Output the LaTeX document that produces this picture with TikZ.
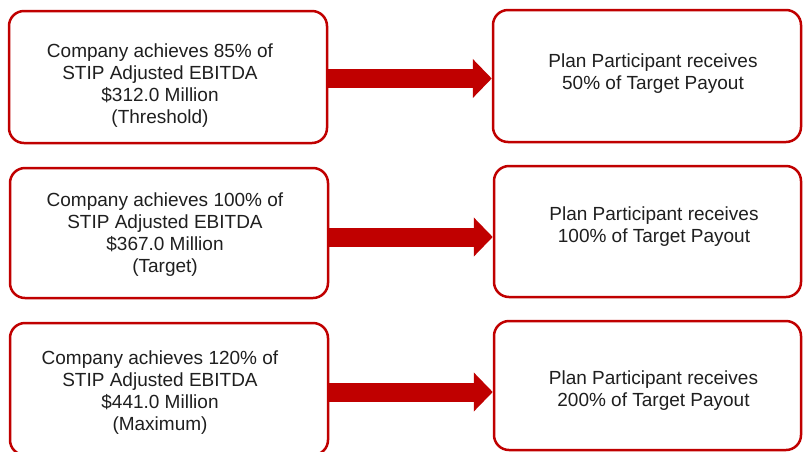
\documentclass[tikz,border=0pt]{standalone}
\usepackage{fontspec}
\setmainfont{Liberation Sans}
\usetikzlibrary{arrows.meta}
\definecolor{boxred}{HTML}{C00000}
\definecolor{txt}{HTML}{1F1F1F}
\tikzset{
  box/.style={draw=boxred, line width=2.5pt, rounded corners=15pt, fill=white, inner sep=0pt},
  lbl/.style={align=center, text=txt, font=\fontsize{19}{22}\selectfont, inner sep=0pt},
  bigarrow/.style={draw=boxred, line width=19pt, -{Triangle[length=19pt,width=38pt]}},
}
\begin{document}
\begin{tikzpicture}[x=1pt,y=-1pt]
\useasboundingbox (0,0) rectangle (803,451);
\fill[white] (0,0) rectangle (803,451);
% left boxes
\node[box, minimum width=318pt, minimum height=132pt] (L1) at (168,77) {};
\node[box, minimum width=318pt, minimum height=130pt] (L2) at (169,233) {};
\node[box, minimum width=318pt, minimum height=132pt] (L3) at (169,389) {};
% right boxes
\node[box, minimum width=308pt, minimum height=132pt] (R1) at (647,76) {};
\node[box, minimum width=307pt, minimum height=131pt] (R2) at (647.5,231.5) {};
\node[box, minimum width=307pt, minimum height=129pt] (R3) at (647.5,385.5) {};
% texts
\node[lbl] (TL1) at (160,86) {Company achieves 85\% of\\STIP Adjusted EBITDA\\\$312.0 Million\\(Threshold)};
\node[lbl] (TL2) at (165,235) {Company achieves 100\% of\\STIP Adjusted EBITDA\\\$367.0 Million\\(Target)};
\node[lbl] (TL3) at (160,392.5) {Company achieves 120\% of\\STIP Adjusted EBITDA\\\$441.0 Million\\(Maximum)};
\node[lbl] (TR1) at (653,74) {Plan Participant receives\\50\% of Target Payout};
\node[lbl] (TR2) at (654,226.5) {Plan Participant receives\\100\% of Target Payout};
\node[lbl] (TR3) at (653.5,390.5) {Plan Participant receives\\200\% of Target Payout};
% arrows
\coordinate (a1) at ([yshift=-1.5pt]L1.east);
\coordinate (a2) at ([yshift=-4pt]L2.east);
\coordinate (a3) at ([yshift=-3pt]L3.east);
\draw[bigarrow] (a1) -- (a1 -| R1.west);
\draw[bigarrow] (a2) -- (a2 -| R2.west);
\draw[bigarrow] (a3) -- (a3 -| R3.west);
\end{tikzpicture}
\end{document}
